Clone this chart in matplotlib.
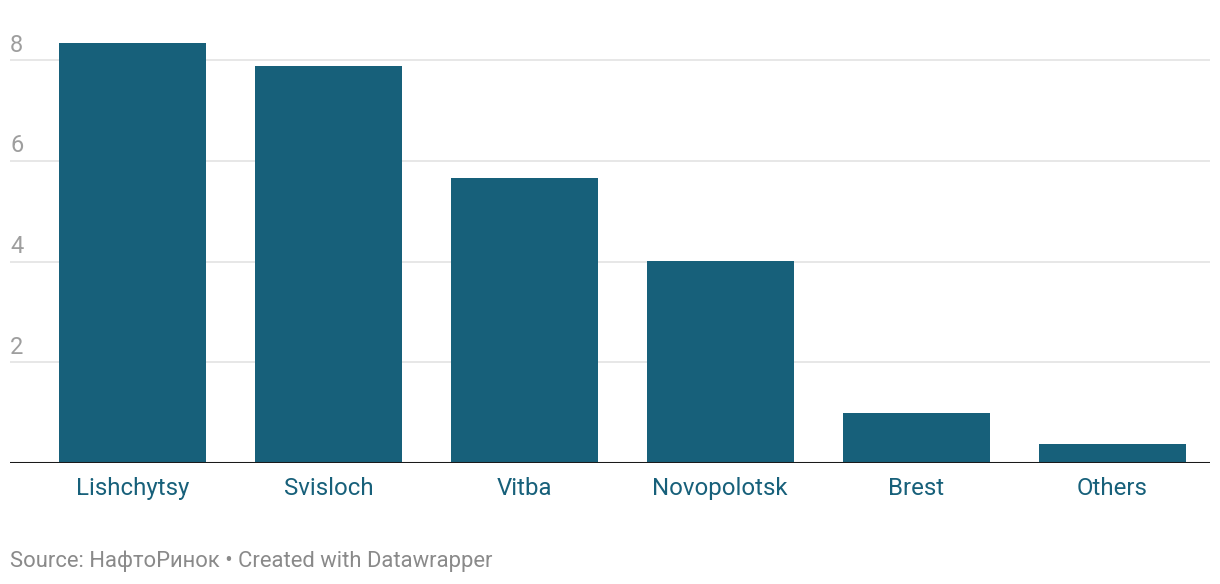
import matplotlib.pyplot as plt
import matplotlib.transforms as mtransforms
import numpy as np

plt.rcParams['font.family'] = ['Roboto', 'DejaVu Sans']

# Data
categories = ["Lishchytsy", "Svisloch", "Vitba", "Novopolotsk", "Brest", "Others"]
values = [8.34, 7.88, 5.66, 4.01, 1.0, 0.38]
y_ticks = [2, 4, 6, 8]

bar_color = "#17607a"
W, H = 1220, 584

fig = plt.figure(figsize=(W / 100, H / 100), dpi=100)
ax = fig.add_axes([10 / W, 1 - 463 / H, 1200 / W, 433 / H])

x = np.arange(len(categories))
ax.bar(x, values, width=0.75, color=bar_color, zorder=3)

ax.set_xlim(-0.625, 5.5)
ax.set_ylim(0, 8.6)

# gridlines and y labels sitting above them
for t in y_ticks:
    ax.axhline(t, color="#e3e3e3", lw=1.2, zorder=1)
trans = mtransforms.blended_transform_factory(ax.transAxes, ax.transData)
for t in y_ticks:
    ax.text(0, t + 0.07, str(t), transform=trans, ha="left", va="bottom",
            fontsize=17, color="#9e9e9e")

ax.axhline(0, color="#1a1a1a", lw=2.2, zorder=4)

ax.set_yticks([])
ax.set_xticks(x)
ax.set_xticklabels(categories, fontsize=17.3, color=bar_color)
ax.tick_params(axis="x", length=0, pad=10)
for s in ax.spines.values():
    s.set_visible(False)

fig.text(10 / W, 1 - 561 / H, "Source: НафтоРинок • Created with Datawrapper",
         ha="left", va="center", fontsize=15.8, color="#8a8a8a")

fig.savefig("out.png", dpi=100)
